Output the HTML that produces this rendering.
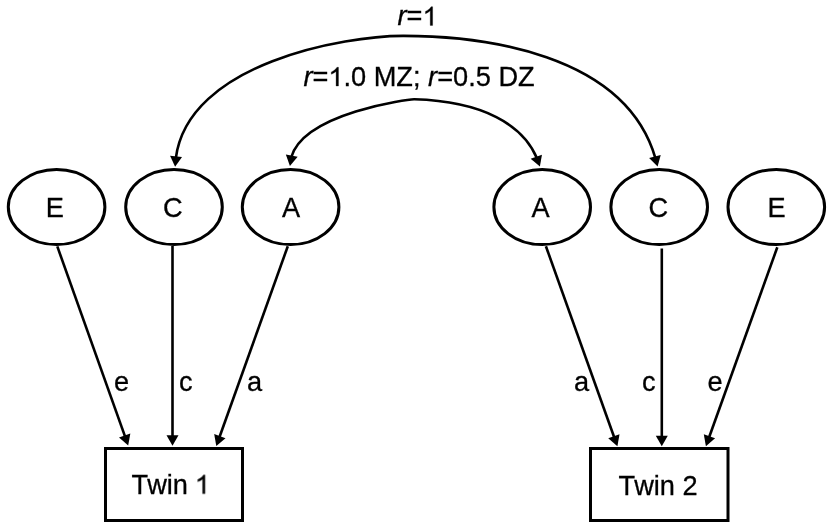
<!DOCTYPE html>
<html><head><meta charset="utf-8"><style>
html,body{margin:0;padding:0;background:#fff;width:831px;height:527px;overflow:hidden}
svg{display:block}
text{font-family:"Liberation Sans",sans-serif;font-size:27.2px;fill:#000;stroke:#000;stroke-width:0.3px;font-kerning:none}
tspan[fill=none]{stroke:none}
</style></head><body>
<svg width="831" height="527" viewBox="0 0 831 527">
<rect width="831" height="527" fill="#fff"/>
<g fill="#000">
<ellipse cx="56.6" cy="207" rx="48.3" ry="37.6" fill="none" stroke="#000" stroke-width="3.0"/>
<ellipse cx="174.0" cy="207" rx="48.3" ry="37.6" fill="none" stroke="#000" stroke-width="3.0"/>
<ellipse cx="290.6" cy="207" rx="48.3" ry="37.6" fill="none" stroke="#000" stroke-width="3.0"/>
<ellipse cx="542.2" cy="207" rx="48.3" ry="37.6" fill="none" stroke="#000" stroke-width="3.0"/>
<ellipse cx="659.2" cy="207" rx="48.3" ry="37.6" fill="none" stroke="#000" stroke-width="3.0"/>
<ellipse cx="776.3" cy="207" rx="48.3" ry="37.6" fill="none" stroke="#000" stroke-width="3.0"/>
<rect x="105.5" y="448.5" width="137" height="72" fill="none" stroke="#000" stroke-width="3"/>
<rect x="590.5" y="448.5" width="137.5" height="72" fill="none" stroke="#000" stroke-width="3"/>
<line x1="57.3" y1="246.4" x2="125.35" y2="437.39" stroke="#000" stroke-width="2.6"/>
<line x1="172.5" y1="246.0" x2="172.50" y2="437.20" stroke="#000" stroke-width="2.6"/>
<line x1="287.8" y1="246.2" x2="219.16" y2="438.00" stroke="#000" stroke-width="2.6"/>
<line x1="545.9" y1="246.2" x2="614.54" y2="438.20" stroke="#000" stroke-width="2.6"/>
<line x1="661.8" y1="248.5" x2="661.80" y2="437.70" stroke="#000" stroke-width="2.6"/>
<line x1="777.3" y1="247.3" x2="708.77" y2="438.20" stroke="#000" stroke-width="2.6"/>
<path d="M175.79,158.30 C187.95,62.81 345.28,35.70 403.70,35.87 C479.63,36.08 624.56,51.86 655.47,158.32" fill="none" stroke="#000" stroke-width="2.6"/>
<path d="M291.15,157.48 C303.88,112.55 409.65,99.17 414.37,99.31 C483.36,101.39 523.11,124.94 537.10,158.57" fill="none" stroke="#000" stroke-width="2.6"/>
<polygon points="128.20,445.40 119.02,437.52 130.33,433.50"/>
<polygon points="172.50,445.70 166.50,435.20 178.50,435.20"/>
<polygon points="216.30,446.00 214.19,434.09 225.49,438.14"/>
<polygon points="617.40,446.20 608.22,438.33 619.52,434.29"/>
<polygon points="661.80,446.20 655.80,435.70 667.80,435.70"/>
<polygon points="705.90,446.20 703.80,434.29 715.09,438.34"/>
<polygon points="175.10,166.80 170.08,155.80 182.03,156.89"/>
<polygon points="657.60,166.60 649.11,157.99 660.71,154.91"/>
<polygon points="289.90,165.90 285.85,154.50 297.66,156.63"/>
<polygon points="539.90,166.60 530.67,158.79 541.94,154.68"/>
</g>
<g style="will-change:transform"><text x="45.65" y="217">E</text>
<text x="162.95" y="217">C</text>
<text x="281.90" y="217">A</text>
<text x="531.50" y="217">A</text>
<text x="648.50" y="217">C</text>
<text x="767.45" y="217">E</text>
<text x="113.95" y="390.5">e</text>
<text x="178.90" y="390.5">c</text>
<text x="247.10" y="390.5">a</text>
<text x="573.90" y="390.5">a</text>
<text x="641.90" y="390.5">c</text>
<text x="707.55" y="390.5">e</text>
<text x="131.55" y="493.6">T</text>
<text x="147.16" y="493.6">w</text>
<text x="166.81" y="493.6">i</text>
<text x="172.85" y="493.6">n</text>
<text x="618.55" y="494.5">T</text>
<text x="634.16" y="494.5">w</text>
<text x="653.81" y="494.5">i</text>
<text x="659.85" y="494.5">n</text>
<text x="682.54" y="494.5">2</text>
<text x="397.55" y="25.4" font-style="italic">r</text>
<text x="406.61" y="25.4">=</text>
<text x="303.40" y="86.0" font-style="italic">r</text>
<text x="312.46" y="86.0">=</text>
<text x="343.47" y="86.0">.</text>
<text x="351.03" y="86.0">0</text>
<text x="373.71" y="86.0">M</text>
<text x="396.37" y="86.0">Z</text>
<text x="412.98" y="86.0">;</text>
<text x="428.10" y="86.0" font-style="italic">r</text>
<text x="437.16" y="86.0">=</text>
<text x="453.04" y="86.0">0</text>
<text x="468.17" y="86.0">.</text>
<text x="475.72" y="86.0">5</text>
<text x="498.41" y="86.0">D</text>
<text x="518.05" y="86.0">Z</text></g>
<g fill="#000" stroke="#000" stroke-width="0.3" style="will-change:transform"><path vector-effect="non-scaling-stroke" transform="translate(194.84,493.6) scale(0.01328,-0.01328)" d="M763 0H583V1098Q518 1036 413 976Q307 916 223 886V1056Q375 1126 488 1224Q602 1322 649 1409H763Z"/>
<path vector-effect="non-scaling-stroke" transform="translate(422.49,25.4) scale(0.01328,-0.01328)" d="M763 0H583V1098Q518 1036 413 976Q307 916 223 886V1056Q375 1126 488 1224Q602 1322 649 1409H763Z"/>
<path vector-effect="non-scaling-stroke" transform="translate(328.34,86.0) scale(0.01328,-0.01328)" d="M763 0H583V1098Q518 1036 413 976Q307 916 223 886V1056Q375 1126 488 1224Q602 1322 649 1409H763Z"/></g>
</svg>
</body></html>
